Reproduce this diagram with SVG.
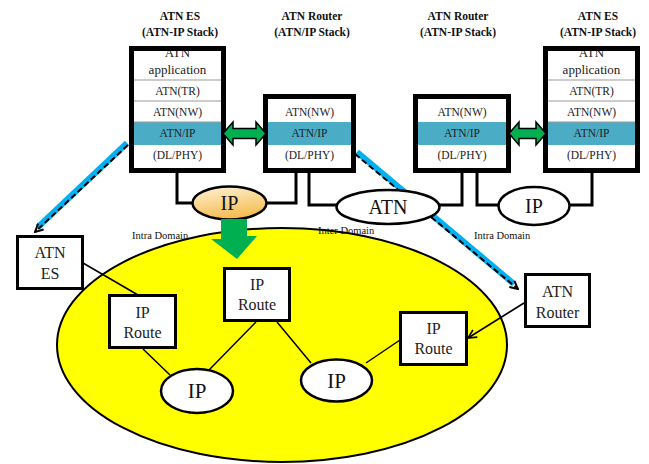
<svg xmlns="http://www.w3.org/2000/svg" width="649" height="464" viewBox="0 0 649 464" font-family="'Liberation Serif', 'DejaVu Serif', serif">
<defs>
<linearGradient id="ipg" x1="0" y1="0" x2="0.3" y2="1">
<stop offset="0" stop-color="#FEF3D6"/>
<stop offset="1" stop-color="#F4BE55"/>
</linearGradient>
<marker id="chev" viewBox="0 0 10 10" refX="9" refY="5" markerWidth="5" markerHeight="5" orient="auto" markerUnits="strokeWidth">
<path d="M1,1 L9,5 L1,9" fill="none" stroke="#000" stroke-width="2"/>
</marker>
<marker id="small" viewBox="0 0 10 10" refX="9" refY="5" markerWidth="7" markerHeight="7" orient="auto" markerUnits="strokeWidth">
<path d="M1,1 L9,5 L1,9" fill="none" stroke="#000" stroke-width="1.5"/>
</marker>
</defs>
<style>
.bg{fill:#fff;stroke:none}
.brd{fill:none;stroke:#000;stroke-width:5}
.teal{fill:#4BACC6}
.sep{stroke:#999;stroke-width:1}
.st{font-size:11.5px;text-anchor:middle;fill:#222}
.hd{font-size:11.5px;font-weight:bold;text-anchor:middle;fill:#111}
.con{fill:none;stroke:#000;stroke-width:3}
.ell{fill:#fff;stroke:#000;stroke-width:2.5}
.et{font-size:20px;text-anchor:middle;fill:#111}
.nb{fill:#fff;stroke:#000;stroke-width:3}
.nt{font-size:16px;text-anchor:middle;fill:#222}
.dom{font-size:10.5px;fill:#111}
.grn{fill:#00B050;stroke:#000;stroke-width:1.5}
.ln{stroke:#000;stroke-width:1.5;fill:none}
.cy{stroke:#00B0F0;stroke-width:6;fill:none}
.dsh{stroke:#000;stroke-width:2;stroke-dasharray:6 3;fill:none}
</style>

<g id="domain">
<ellipse cx="282" cy="345" rx="225" ry="117" fill="#FFFF00" stroke="#000" stroke-width="2"/>
</g>

<g id="labels">
<text class="hd" x="180" y="20">ATN ES</text>
<text class="hd" x="180" y="36">(ATN-IP Stack)</text>
<text class="hd" x="312" y="20">ATN Router</text>
<text class="hd" x="312" y="36">(ATN/IP Stack)</text>
<text class="hd" x="458" y="20">ATN Router</text>
<text class="hd" x="458" y="36">(ATN-IP Stack)</text>
<text class="hd" x="598" y="20">ATN ES</text>
<text class="hd" x="598" y="36">(ATN-IP Stack)</text>
<text class="dom" x="132" y="239">Intra Domain</text>
<text class="dom" x="318" y="234">Inter Domain</text>
<text class="dom" x="474" y="239">Intra Domain</text>
</g>

<g id="connectors">
<path class="con" d="M177,173 V203 H193"/>
<path class="con" d="M266,203 H296 V173"/>
<path class="con" d="M309,173 V205 H337"/>
<path class="con" d="M439,205 H462 V173"/>
<path class="con" d="M477,173 V205 H499"/>
<path class="con" d="M569,205 H592 V173"/>
<line class="ln" x1="83" y1="263" x2="138" y2="295"/>
<line class="ln" x1="143" y1="349" x2="170" y2="375"/>
<line class="ln" x1="256" y1="322" x2="209" y2="370"/>
<line class="ln" x1="277" y1="322" x2="311" y2="363"/>
<line class="ln" x1="366" y1="363" x2="400" y2="340"/>
<line class="ln" x1="524" y1="303" x2="468" y2="338" marker-end="url(#small)"/>
<line class="cy" x1="127" y1="143" x2="38" y2="227"/>
<line class="dsh" x1="128" y1="145" x2="35" y2="232" marker-end="url(#chev)"/>
<line class="cy" x1="357" y1="152" x2="514" y2="284"/>
<line class="dsh" x1="355" y1="154" x2="518" y2="289" marker-end="url(#chev)"/>
</g>

<g id="es-left">
<rect class="bg" x="131.5" y="48.5" width="92" height="122"/>
<rect class="teal" x="129" y="122" width="94" height="23"/>
<line class="sep" x1="131" y1="80" x2="224" y2="80"/>
<line class="sep" x1="131" y1="101" x2="224" y2="101"/>
<line class="sep" x1="131" y1="122" x2="224" y2="122"/>
<text class="st" x="177.5" y="57" style="font-size:13px">ATN</text>
<text class="st" x="177.5" y="74" style="font-size:13px">application</text>
<text class="st" x="177.5" y="95">ATN(TR)</text>
<text class="st" x="177.5" y="116">ATN(NW)</text>
<text class="st" x="177.5" y="137">ATN/IP</text>
<text class="st" x="177.5" y="159">(DL/PHY)</text>
<rect class="brd" x="131.5" y="48.5" width="92" height="122"/>
</g>

<g id="router-left">
<rect class="bg" x="265.5" y="96.5" width="88" height="74"/>
<rect class="teal" x="263" y="122" width="90" height="23"/>
<text class="st" x="309.5" y="116">ATN(NW)</text>
<text class="st" x="309.5" y="137">ATN/IP</text>
<text class="st" x="309.5" y="159">(DL/PHY)</text>
<rect class="brd" x="265.5" y="96.5" width="88" height="74"/>
</g>

<g id="router-right">
<rect class="bg" x="415.5" y="96.5" width="93" height="74"/>
<rect class="teal" x="413" y="122" width="96" height="23"/>
<text class="st" x="462" y="116">ATN(NW)</text>
<text class="st" x="462" y="137">ATN/IP</text>
<text class="st" x="462" y="159">(DL/PHY)</text>
<rect class="brd" x="415.5" y="96.5" width="93" height="74"/>
</g>

<g id="es-right">
<rect class="bg" x="545.5" y="48.5" width="92" height="122"/>
<rect class="teal" x="543" y="122" width="95" height="23"/>
<line class="sep" x1="545" y1="80" x2="638" y2="80"/>
<line class="sep" x1="545" y1="101" x2="638" y2="101"/>
<line class="sep" x1="545" y1="122" x2="638" y2="122"/>
<text class="st" x="591.5" y="57" style="font-size:13px">ATN</text>
<text class="st" x="591.5" y="74" style="font-size:13px">application</text>
<text class="st" x="591.5" y="95">ATN(TR)</text>
<text class="st" x="591.5" y="116">ATN(NW)</text>
<text class="st" x="591.5" y="137">ATN/IP</text>
<text class="st" x="591.5" y="159">(DL/PHY)</text>
<rect class="brd" x="545.5" y="48.5" width="92" height="122"/>
</g>

<g id="arrow-left">
<path class="grn" d="M223,133.5 L233,122 L233,128.5 L256,128.5 L256,122 L266,133.5 L256,145 L256,138.5 L233,138.5 L233,145 Z"/>
</g>
<g id="arrow-right">
<path class="grn" d="M509,133.5 L519,122 L519,128.5 L536,128.5 L536,122 L546,133.5 L536,145 L536,138.5 L519,138.5 L519,145 Z"/>
</g>

<g id="ip-top-left">
<ellipse cx="229.5" cy="203" rx="37" ry="16.5" fill="url(#ipg)" stroke="#000" stroke-width="2.5"/>
<text class="et" x="229.5" y="210">IP</text>
</g>
<g id="atn-top">
<ellipse class="ell" cx="388" cy="207" rx="51.5" ry="17"/>
<text class="et" x="388" y="214">ATN</text>
</g>
<g id="ip-top-right">
<ellipse class="ell" cx="534" cy="206" rx="35.5" ry="19"/>
<text class="et" x="534" y="213">IP</text>
</g>

<g id="down-arrow">
<path d="M221,219 H247 V236 H257 L237,259 L211,239 H221 Z" fill="#00B050"/>
</g>

<g id="atn-es">
<rect class="nb" x="17.5" y="236.5" width="65" height="52"/>
<text class="nt" x="50" y="258">ATN</text>
<text class="nt" x="50" y="279">ES</text>
</g>
<g id="atn-router">
<rect class="nb" x="525.5" y="274.5" width="64" height="52"/>
<text class="nt" x="557.5" y="297">ATN</text>
<text class="nt" x="557.5" y="318">Router</text>
</g>
<g id="ip-route-1">
<rect class="nb" x="109.5" y="295.5" width="66" height="52"/>
<text class="nt" x="142.5" y="318">IP</text>
<text class="nt" x="142.5" y="338">Route</text>
</g>
<g id="ip-route-2">
<rect class="nb" x="224.5" y="268.5" width="65" height="52"/>
<text class="nt" x="257" y="290">IP</text>
<text class="nt" x="257" y="310">Route</text>
</g>
<g id="ip-route-3">
<rect class="nb" x="400.5" y="312.5" width="66" height="52"/>
<text class="nt" x="433.5" y="334">IP</text>
<text class="nt" x="433.5" y="354">Route</text>
</g>
<g id="ip-left">
<ellipse class="ell" cx="197" cy="391" rx="36" ry="22"/>
<text class="et" x="197" y="398" style="font-size:21px">IP</text>
</g>
<g id="ip-right">
<ellipse class="ell" cx="336.5" cy="380.5" rx="35.5" ry="21"/>
<text class="et" x="336.5" y="388" style="font-size:21px">IP</text>
</g>
</svg>
